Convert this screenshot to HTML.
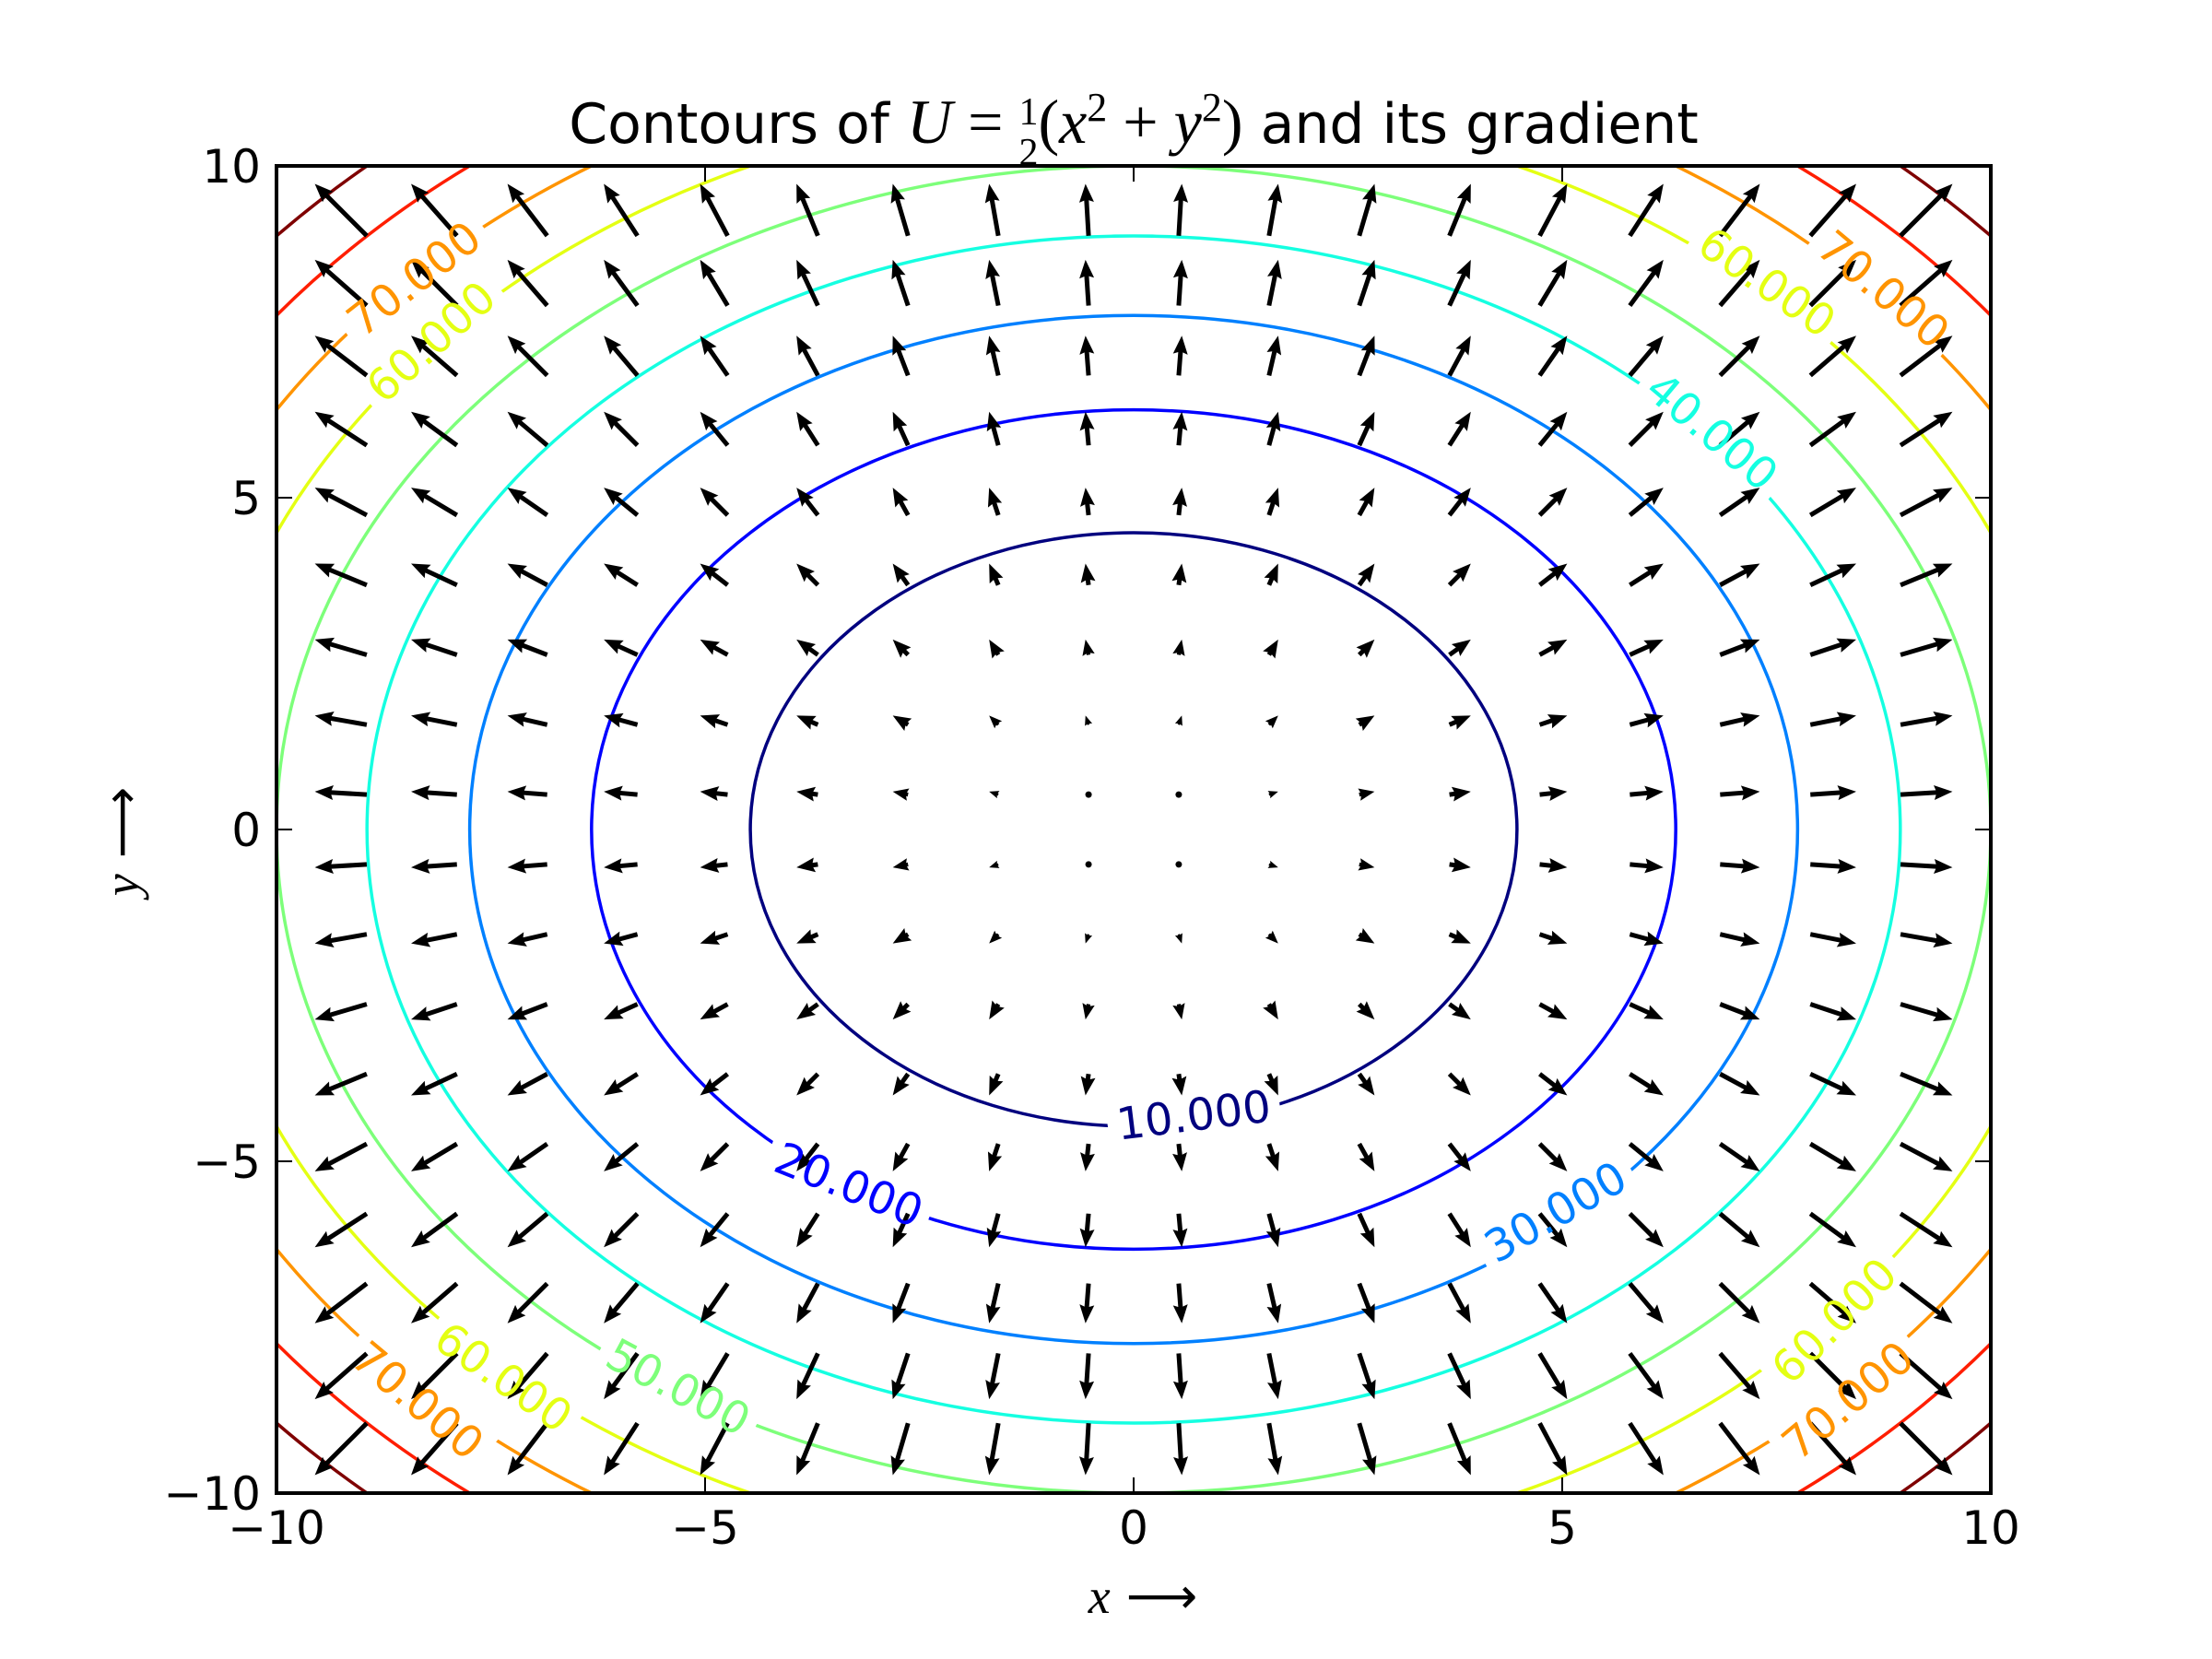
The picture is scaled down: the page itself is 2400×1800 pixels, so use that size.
<!DOCTYPE html>
<html><head><meta charset="utf-8"><style>
html,body{margin:0;padding:0;background:#fff;}
svg{display:block;}
text{font-family:"DejaVu Sans","Liberation Sans",sans-serif;}
</style></head><body>
<svg id="chart" width="2400" height="1800" viewBox="0 0 2400 1800">
<defs>
<clipPath id="axclip"><rect x="300" y="180" width="1860" height="1440"/></clipPath>
<mask id="labelmask" maskUnits="userSpaceOnUse" x="0" y="0" width="2400" height="1800">
<rect x="0" y="0" width="2400" height="1800" fill="#fff"/>
<g id="maskholes"></g>
</mask>
</defs>
<rect x="0" y="0" width="2400" height="1800" fill="#fff"/>
<g id="contours" clip-path="url(#axclip)" mask="url(#labelmask)"></g>
<g id="arrows" clip-path="url(#axclip)"></g>
<g id="clabels"></g>
<rect x="300" y="180" width="1860" height="1440" fill="none" stroke="#000" stroke-width="4"/>
<g id="ticks"></g>
<text x="1230" y="155" font-size="60" text-anchor="middle">Contours of <tspan font-family="Liberation Serif,serif" font-style="italic" font-size="68">U</tspan><tspan font-family="Liberation Serif,serif" font-size="68"> = </tspan><tspan font-family="Liberation Serif,serif" font-size="42" dy="-20">1</tspan><tspan font-family="Liberation Serif,serif" font-size="42" dx="-21" dy="44">2</tspan><tspan font-family="Liberation Serif,serif" font-size="68" dy="-24">(</tspan><tspan font-family="Liberation Serif,serif" font-style="italic" font-size="68">x</tspan><tspan font-family="Liberation Serif,serif" font-size="44" dy="-24">2</tspan><tspan font-family="Liberation Serif,serif" font-size="68" dy="24"> + </tspan><tspan font-family="Liberation Serif,serif" font-style="italic" font-size="68">y</tspan><tspan font-family="Liberation Serif,serif" font-size="44" dy="-24">2</tspan><tspan font-family="Liberation Serif,serif" font-size="68" dy="24">)</tspan> and its gradient</text>
<text x="1240" y="1750" font-size="54" text-anchor="middle" font-family="Liberation Serif,serif"><tspan font-style="italic" font-family="Liberation Serif,serif">x</tspan> ⟶</text>
<text transform="translate(150,913) rotate(-90)" font-size="54" text-anchor="middle" font-family="Liberation Serif,serif"><tspan font-style="italic" font-family="Liberation Serif,serif">y</tspan> ⟶</text>
</svg>
<script>
// data
const gridX = [-10, -8.947, -7.895, -6.842, -5.789, -4.737, -3.684, -2.632, -1.579, -0.526, 0.526, 1.579, 2.632, 3.684, 4.737, 5.789, 6.842, 7.895, 8.947, 10];
const gridY = [-10, -8.947, -7.895, -6.842, -5.789, -4.737, -3.684, -2.632, -1.579, -0.526, 0.526, 1.579, 2.632, 3.684, 4.737, 5.789, 6.842, 7.895, 8.947, 10];
const levels = [10, 20, 30, 40, 50, 60, 70, 80, 90];
const levelColors = ['#00007f', '#0000ff', '#0080ff', '#15ffe1', '#7dff7a', '#e4ff13', '#ff9400', '#ff1e00', '#7f0000'];
const labelLevels = [10, 20, 30, 40, 50, 60, 70, 60, 70, 60, 70, 60, 70];
const labelAngles = [-7, 22, -30, 40, 28, -42, -38, 35, 40, 35, 40, -45, -40];
const labelPosX = [0.70, -3.32, 4.92, 6.75, -5.31, -8.2, -8.4, 7.39, 8.75, -7.35, -8.35, 8.17, 8.33];
const labelPosY = [-4.3, -5.35, -5.76, 6.0, -8.4, 7.35, 8.3, 8.25, 8.14, -8.25, -8.6, -7.4, -8.6];
const xTicks = [-10, -5, 0, 5, 10];
const yTicks = [-10, -5, 0, 5, 10];
const tickLabels = ['\u221210', '\u22125', '0', '5', '10'];

const NS = 'http://www.w3.org/2000/svg';
const X0 = 300, X1 = 2160, Y0 = 180, Y1 = 1620;
const sx = v => X0 + (v + 10) / 20 * (X1 - X0);
const sy = v => Y1 - (v + 10) / 20 * (Y1 - Y0);
const pxPerUnitX = (X1 - X0) / 20, pxPerUnitY = (Y1 - Y0) / 20;
const arrowScale = 6.3;
function mk(tag, attrs) { const e = document.createElementNS(NS, tag); for (const k in attrs) e.setAttribute(k, attrs[k]); return e; }

// contours
const cg = document.getElementById('contours');
levels.forEach((lv, i) => {
  const r = Math.sqrt(2 * lv);
  const el = mk('ellipse', {cx: sx(0), cy: sy(0), rx: r * pxPerUnitX, ry: r * pxPerUnitY, fill: 'none', stroke: levelColors[i], 'stroke-width': 3.5});
  
  
  cg.appendChild(el);
});

// contour labels
const lg = document.getElementById('clabels');
const mh = document.getElementById('maskholes');
labelLevels.forEach((lv, i) => {
  const x = sx(labelPosX[i]), y = sy(labelPosY[i]);
  const col = levelColors[levels.indexOf(lv)];
  const t = mk('text', {x: x, y: y + 17, 'font-size': 48, fill: col, 'text-anchor': 'middle', transform: 'rotate(' + labelAngles[i] + ' ' + x + ' ' + y + ')'});
  t.textContent = lv.toFixed(3);
  
  
  lg.appendChild(t);
  mh.appendChild(mk('rect', {x: x - 94, y: y - 30, width: 188, height: 60, fill: '#000', transform: 'rotate(' + labelAngles[i] + ' ' + x + ' ' + y + ')'}));
});

// arrows (gradient of U = (x, y))
const ag = document.getElementById('arrows');
const W = 5, HL = 20, HAL = 18, HW = 16;
gridY.forEach(gy => {
  gridX.forEach(gx => {
    const u = gx, v = gy;
    const L = Math.sqrt(u * u + v * v) * arrowScale;
    const tx = sx(gx), ty = sy(gy);
    let el;
    if (L < W) {
      el = mk('circle', {cx: tx, cy: ty, r: 3.5, fill: '#000'});
    } else {
      const ang = Math.atan2(-v, u) * 180 / Math.PI;
      const s = L < HL ? L / HL : 1;
      const hl = HL * s, hal = HAL * s, hw = HW * s / 2, w = W * s / 2;
      const d = `M0,${-w} L${L - hal},${-w} L${L - hl},${-hw} L${L},0 L${L - hl},${hw} L${L - hal},${w} L0,${w} Z`;
      el = mk('path', {d: d, fill: '#000', transform: `translate(${tx},${ty}) rotate(${ang})`});
    }
    
    
    ag.appendChild(el);
  });
});

// ticks
const tg = document.getElementById('ticks');
xTicks.forEach((t, i) => {
  const x = sx(t);
  tg.appendChild(mk('line', {x1: x, y1: Y1, x2: x, y2: Y1 - 17, stroke: '#000', 'stroke-width': 2}));
  tg.appendChild(mk('line', {x1: x, y1: Y0, x2: x, y2: Y0 + 17, stroke: '#000', 'stroke-width': 2}));
  const lab = mk('text', {x: x, y: 1675, 'font-size': 50, 'text-anchor': 'middle'});
  lab.textContent = tickLabels[i];
  
  
  tg.appendChild(lab);
});
yTicks.forEach((t, i) => {
  const y = sy(t);
  tg.appendChild(mk('line', {x1: X0, y1: y, x2: X0 + 17, y2: y, stroke: '#000', 'stroke-width': 2}));
  tg.appendChild(mk('line', {x1: X1, y1: y, x2: X1 - 17, y2: y, stroke: '#000', 'stroke-width': 2}));
  const lab = mk('text', {x: 283, y: y + 18, 'font-size': 50, 'text-anchor': 'end'});
  lab.textContent = tickLabels[i];
  
  
  tg.appendChild(lab);
});
</script>
</body></html>
